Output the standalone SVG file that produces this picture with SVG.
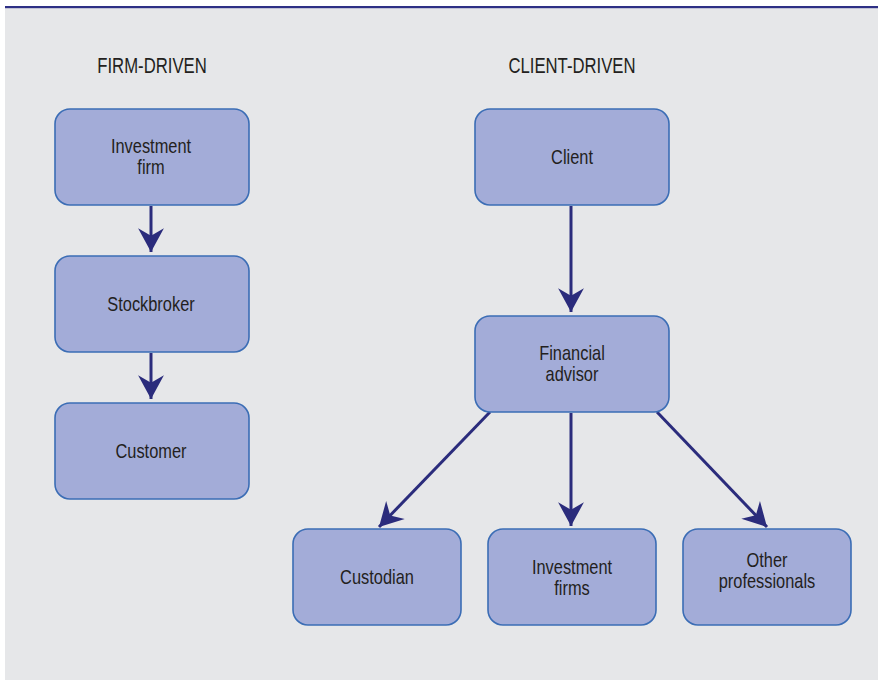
<svg xmlns="http://www.w3.org/2000/svg" width="878" height="680" viewBox="0 0 878 680">
  <style>
    .box { fill: #a3acd8; stroke: #3b6db5; stroke-width: 1.6; }
    .lbl { font-family: "Liberation Sans", Arial, sans-serif; font-size: 20px; fill: #231f20; text-anchor: middle; }
    .hdr { font-family: "Liberation Sans", Arial, sans-serif; font-size: 22px; fill: #231f20; text-anchor: middle; }
    .conn { stroke: #2b2c7c; stroke-width: 3; fill: none; marker-end: url(#head); }
  </style>
  <defs>
    <marker id="head" markerUnits="userSpaceOnUse" markerWidth="26" markerHeight="28" viewBox="-23 -13 24 26" refX="0" refY="0" orient="auto">
      <path d="M0,0 L-22,-12 L-15,0 L-22,12 Z" fill="#2b2c7c"/>
    </marker>
  </defs>

  <!-- panel -->
  <rect x="0" y="0" width="878" height="680" fill="#ffffff"/>
  <rect x="5" y="7" width="873" height="673" fill="#e6e7e9"/>
  <rect x="5" y="6" width="873" height="2.2" fill="#2e3085"/>

  <!-- column headings -->
  <text class="hdr" transform="translate(152,73) scale(0.76,1)">FIRM-DRIVEN</text>
  <text class="hdr" transform="translate(572,73) scale(0.76,1)">CLIENT-DRIVEN</text>

  <!-- connectors -->
  <g id="connectors">
    <line class="conn" x1="151" y1="206" x2="151" y2="252"/>
    <line class="conn" x1="151" y1="353" x2="151" y2="399"/>
    <line class="conn" x1="571" y1="206" x2="571" y2="312"/>
    <line class="conn" x1="571" y1="413" x2="571" y2="526"/>
    <line class="conn" x1="490" y1="412" x2="379" y2="527"/>
    <line class="conn" x1="657" y1="412" x2="767" y2="527"/>
  </g>

  <!-- firm-driven chain -->
  <g id="investment-firm">
    <rect class="box" x="55" y="109" width="194" height="96" rx="15"/>
    <text class="lbl" transform="translate(151,153) scale(0.82,1)">Investment</text>
    <text class="lbl" transform="translate(151,174) scale(0.82,1)">firm</text>
  </g>
  <g id="stockbroker">
    <rect class="box" x="55" y="256" width="194" height="96" rx="15"/>
    <text class="lbl" transform="translate(151,311) scale(0.82,1)">Stockbroker</text>
  </g>
  <g id="customer">
    <rect class="box" x="55" y="403" width="194" height="96" rx="15"/>
    <text class="lbl" transform="translate(151,458) scale(0.82,1)">Customer</text>
  </g>

  <!-- client-driven tree -->
  <g id="client">
    <rect class="box" x="475" y="109" width="194" height="96" rx="15"/>
    <text class="lbl" transform="translate(572,164) scale(0.82,1)">Client</text>
  </g>
  <g id="financial-advisor">
    <rect class="box" x="475" y="316" width="194" height="96" rx="15"/>
    <text class="lbl" transform="translate(572,360) scale(0.82,1)">Financial</text>
    <text class="lbl" transform="translate(572,381) scale(0.82,1)">advisor</text>
  </g>
  <g id="custodian">
    <rect class="box" x="293" y="529" width="168" height="96" rx="15"/>
    <text class="lbl" transform="translate(377,584) scale(0.82,1)">Custodian</text>
  </g>
  <g id="investment-firms">
    <rect class="box" x="488" y="529" width="168" height="96" rx="15"/>
    <text class="lbl" transform="translate(572,574) scale(0.82,1)">Investment</text>
    <text class="lbl" transform="translate(572,595) scale(0.82,1)">firms</text>
  </g>
  <g id="other-professionals">
    <rect class="box" x="683" y="529" width="168" height="96" rx="15"/>
    <text class="lbl" transform="translate(767,567) scale(0.82,1)">Other</text>
    <text class="lbl" transform="translate(767,588) scale(0.82,1)">professionals</text>
  </g>
</svg>
